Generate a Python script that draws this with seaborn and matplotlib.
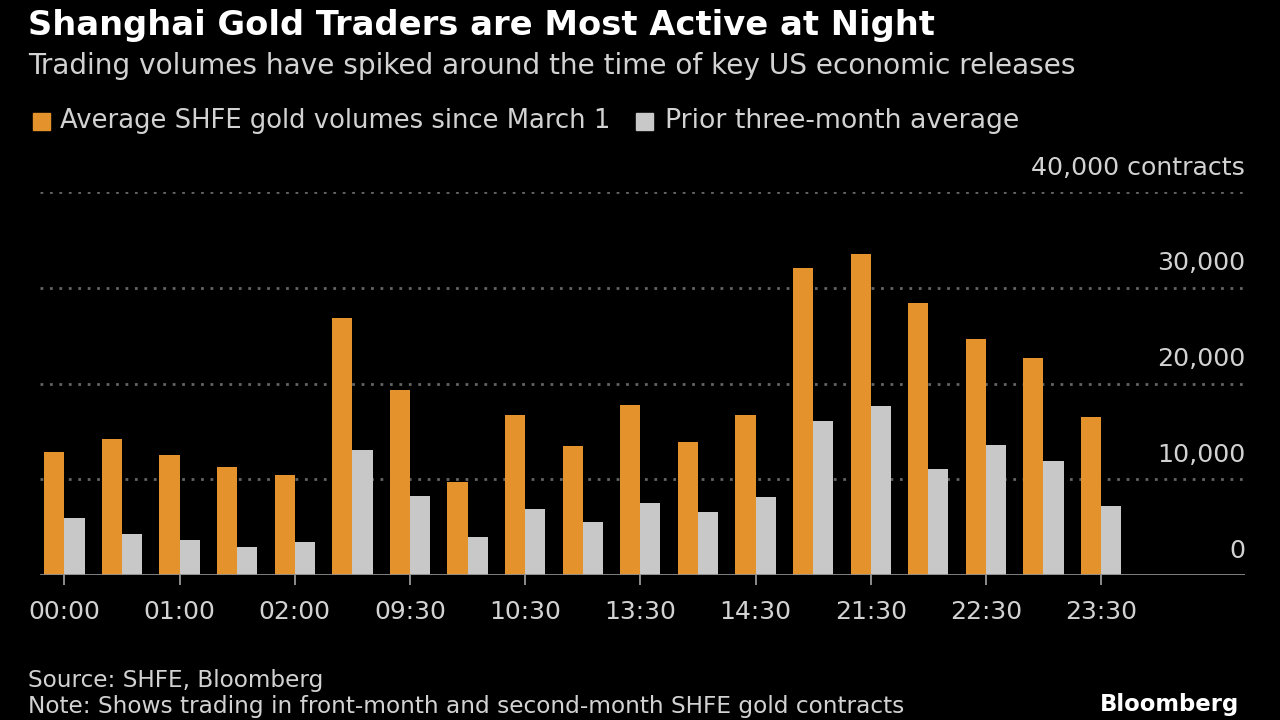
import matplotlib
matplotlib.use("Agg")
import matplotlib.pyplot as plt
import matplotlib.transforms as mtransforms
from matplotlib.patches import Rectangle
import seaborn as sns
import pandas as pd

# ---------------- data ----------------
times = ["00:00", "00:30", "01:00", "01:30", "02:00", "09:00", "09:30", "10:00",
         "10:30", "11:00", "13:30", "14:00", "14:30", "21:00", "21:30", "22:00",
         "22:30", "23:00", "23:30"]
avg_since_march = [12800, 14200, 12500, 11300, 10400, 26800, 19300, 9700,
                   16700, 13500, 17800, 13900, 16700, 32100, 33500, 28400,
                   24600, 22700, 16500]
prior_three_month = [6000, 4300, 3700, 2900, 3400, 13100, 8200, 4000,
                     6900, 5500, 7500, 6600, 8100, 16100, 17600, 11100,
                     13600, 11900, 7200]
series_names = ["Average SHFE gold volumes since March 1", "Prior three-month average"]
tick_labels = ["00:00", "01:00", "02:00", "09:30", "10:30", "13:30", "14:30",
               "21:30", "22:30", "23:30"]
y_ticks = [0, 10000, 20000, 30000, 40000]
y_tick_labels = ["0", "10,000", "20,000", "30,000", "40,000 contracts"]

# ---------------- style ----------------
ORANGE = "#E3922C"
GRAY = "#C8C8C8"
TXT = "#D2D2D2"
BG = "#000000"

sns.set_theme(style="dark")
plt.rcParams["font.family"] = ["DejaVu Sans"]

df = pd.DataFrame({
    "time": times * 2,
    "value": avg_since_march + prior_three_month,
    "series": [series_names[0]] * len(times) + [series_names[1]] * len(times),
})

W, H = 1280, 720
fig = plt.figure(figsize=(12.8, 7.2), dpi=100, facecolor=BG)
ax = fig.add_axes([40 / W, (H - 575) / H, (1245 - 40) / W, (575 - 192) / H])
ax.set_facecolor(BG)

sns.barplot(data=df, x="time", y="value", hue="series", order=times,
            hue_order=series_names, palette=[ORANGE, GRAY], width=0.7, gap=0,
            saturation=1, legend=False, ax=ax, zorder=3, linewidth=0)

ax.set_xlim(-0.425, 20.5)
ax.set_ylim(0, 40000)
for s in ax.spines.values():
    s.set_visible(False)
ax.grid(False)
ax.set_xlabel("")
ax.set_ylabel("")

# gridlines
for v in y_ticks[1:]:
    ax.axhline(v, color="#646464", lw=2.0, dashes=(1, 2.4), zorder=1)
ax.axhline(0, color="#8c8c8c", lw=2.0, zorder=4)

# x ticks
ax.set_xticks(list(range(0, len(times), 2)))
ax.set_xticklabels(tick_labels)
ax.tick_params(axis="x", length=7, width=1.4, color="#8c8c8c", pad=11,
               labelsize=18, labelcolor=TXT, direction="out", bottom=True)
ax.set_yticks([])

# y labels (right, above gridlines)
ytrans = mtransforms.offset_copy(ax.get_yaxis_transform(), fig=fig, x=0, y=12.5, units="points")
for v, lab in zip(y_ticks, y_tick_labels):
    ax.text(1.0, v, lab, transform=ytrans, ha="right", va="baseline",
            fontsize=18.2, color=TXT)

# ---------------- texts ----------------
def ftext(x_px, y_px, s, target_w=None, size=18, **kw):
    t = fig.text(x_px / W, 1 - y_px / H, s, va="center", ha="left", fontsize=size, **kw)
    if target_w is not None:
        fig.canvas.draw()
        w = t.get_window_extent().width
        t.set_fontsize(size * target_w / w)
    return t

ftext(28, 25, "Shanghai Gold Traders are Most Active at Night", 902, size=22,
      color="white", fontweight="bold")
ftext(28, 66, "Trading volumes have spiked around the time of key US economic releases",
      1052, size=20, color=TXT)

# legend
fig.patches.append(Rectangle((33 / W, 1 - 130 / H), 17 / W, 17 / H,
                             transform=fig.transFigure, color=ORANGE, figure=fig))
ftext(60, 121, series_names[0], 551, size=18, color=TXT)
fig.patches.append(Rectangle((636 / W, 1 - 130 / H), 17 / W, 17 / H,
                             transform=fig.transFigure, color=GRAY, figure=fig))
ftext(665, 121, series_names[1], 355, size=18, color=TXT)

ftext(28, 680, "Source: SHFE, Bloomberg", 295, size=18, color=TXT)
ftext(28, 706, "Note: Shows trading in front-month and second-month SHFE gold contracts",
      880, size=18, color=TXT)
ftext(1100, 704, "Bloomberg", 140, size=18, color="white", fontweight="bold")

fig.savefig("out.png", dpi=100, facecolor=BG)
